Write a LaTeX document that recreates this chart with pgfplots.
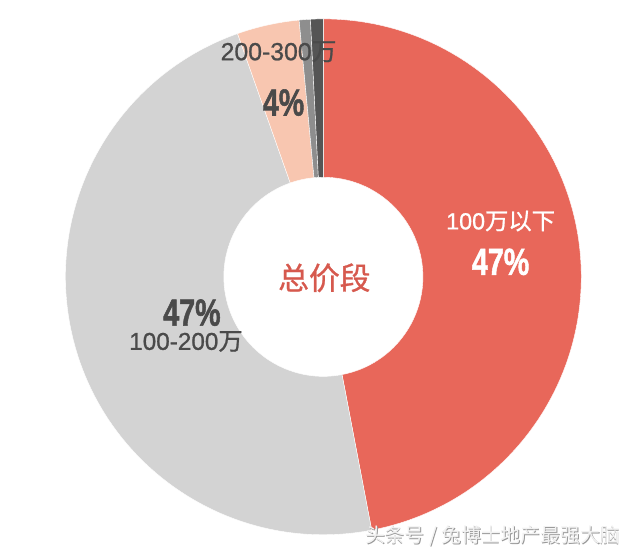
\documentclass[border=0pt]{standalone}
\usepackage{pgfplots}
\pgfplotsset{compat=1.18}
\usepackage{pgfplotstable}
\usepackage{fontspec}
\setmainfont{Liberation Sans}
\newfontfamily\cjk{Noto Sans CJK SC}
\newfontfamily\med{Liberation Sans}[FakeBold=0.9]
\newfontfamily\cjkmed{Noto Sans CJK SC}[FakeBold=0.9]
\newfontfamily\heavy{Liberation Sans Bold}[FakeBold=1.5]
\definecolor{c0}{HTML}{E8675A}
\definecolor{c1}{HTML}{D3D3D3}
\definecolor{c2}{HTML}{F8C6B0}
\definecolor{c3}{HTML}{8E8E8E}
\definecolor{c4}{HTML}{555555}
\definecolor{txt}{HTML}{4A4A4A}
\definecolor{ctr}{HTML}{D6594E}
\pgfplotstableread{
key value
a 47.0
b 47.6
c 3.9
d 0.7
e 0.8
}\piedata
\begin{document}
% cumulative angles (clockwise from 12 o'clock), centre (322,278), radii 259 / 100
\def\acc{0}
\foreach \i in {0,...,4}{%
  \pgfplotstablegetelem{\i}{value}\of\piedata
  \pgfmathsetmacro\sa{90-\acc}%
  \pgfmathsetmacro\newacc{\acc+3.6*\pgfplotsretval}%
  \pgfmathsetmacro\ea{90-\newacc}%
  \pgfmathsetmacro\ox{322+259*cos(\sa)}%
  \pgfmathsetmacro\oy{278+259*sin(\sa)}%
  \pgfmathsetmacro\ix{322+100*cos(\ea)}%
  \pgfmathsetmacro\iy{278+100*sin(\ea)}%
  \expandafter\xdef\csname sA\i\endcsname{\sa}%
  \expandafter\xdef\csname eA\i\endcsname{\ea}%
  \expandafter\xdef\csname oX\i\endcsname{\ox}%
  \expandafter\xdef\csname oY\i\endcsname{\oy}%
  \expandafter\xdef\csname iX\i\endcsname{\ix}%
  \expandafter\xdef\csname iY\i\endcsname{\iy}%
  \xdef\acc{\newacc}%
}%
\begin{tikzpicture}
\begin{axis}[
  scale only axis, width=640bp, height=556bp,
  xmin=0, xmax=640, ymin=0, ymax=556,
  enlargelimits=false, hide axis, clip=false]
\path (axis cs:0,0) rectangle (axis cs:640,556);
\pgfplotsinvokeforeach{0,...,4}{
  \fill[c#1, draw=white, line width=0.4bp]
    (axis cs:\csname oX#1\endcsname,\csname oY#1\endcsname)
    arc[start angle=\csname sA#1\endcsname, end angle=\csname eA#1\endcsname, radius=259bp]
    -- (axis cs:\csname iX#1\endcsname,\csname iY#1\endcsname)
    arc[start angle=\csname eA#1\endcsname, end angle=\csname sA#1\endcsname, radius=100bp]
    -- cycle;
}
\node[txt, font=\fontsize{25}{25}\selectfont\med] at (axis cs:277,504) {200-300{\cjkmed 万}};
\node[txt, font=\fontsize{38}{38}\selectfont\heavy, xscale=0.76] at (axis cs:282,453) {4\%};
\node[white, font=\fontsize{23.5}{23.5}\selectfont\med] at (axis cs:500,334) {100{\cjkmed 万以下}};
\node[white, font=\fontsize{38}{38}\selectfont\heavy, xscale=0.76] at (axis cs:500,293) {47\%};
\node[txt, font=\fontsize{38}{38}\selectfont\heavy, xscale=0.76] at (axis cs:190,242) {47\%};
\node[txt, font=\fontsize{24.5}{24.5}\selectfont\med] at (axis cs:184,213) {100-200{\cjkmed 万}};
\node[ctr, font=\fontsize{31}{31}\selectfont\cjkmed] at (axis cs:323,277) {总价段};
\node[gray!80, font=\fontsize{20}{20}\selectfont\cjk] at (axis cs:492.8,17.2) {头条号 / 兔博士地产最强大脑};
\node[white!95!black, font=\fontsize{20}{20}\selectfont\cjk] at (axis cs:492,18) {头条号 / 兔博士地产最强大脑};
\end{axis}
\end{tikzpicture}
\end{document}
